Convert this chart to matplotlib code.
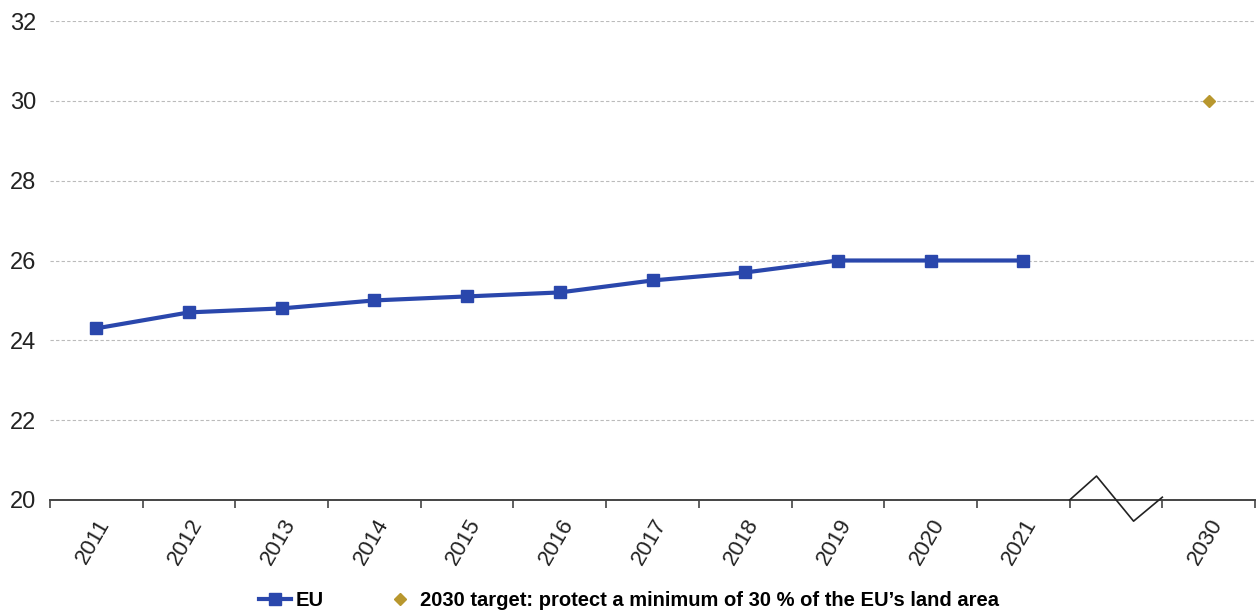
import matplotlib
matplotlib.use("Agg")
import matplotlib.pyplot as plt
from matplotlib.lines import Line2D

plt.rcParams['font.family'] = ['Liberation Sans', 'DejaVu Sans']

# Category slots: 2011-2021, an empty gap slot for the axis break, then 2030
categories = ['2011', '2012', '2013', '2014', '2015', '2016', '2017',
              '2018', '2019', '2020', '2021', '', '2030']
eu_years = ['2011', '2012', '2013', '2014', '2015', '2016', '2017',
            '2018', '2019', '2020', '2021']
eu_values = [24.3, 24.7, 24.8, 25.0, 25.1, 25.2, 25.5, 25.7, 26.0, 26.0, 26.0]
target_year = '2030'
target_value = 30.0
y_ticks = [20, 22, 24, 26, 28, 30, 32]

blue = '#2a47ac'
gold = '#b8972e'
text_col = '#222222'

fig = plt.figure(figsize=(12.58, 6.16), dpi=100)
ax = fig.add_axes([50 / 1258, 1 - 500 / 616, 1205 / 1258, 479 / 616])

pos = {c: i for i, c in enumerate(categories)}
ax.plot([pos[y] for y in eu_years], eu_values, color=blue, lw=3,
        marker='s', ms=9, mfc=blue, mec=blue, zorder=3)
ax.plot([pos[target_year]], [target_value], ls='none', marker='D', ms=6,
        color=gold, zorder=3)

ax.set_xlim(-0.5, len(categories) - 0.5)
ax.set_ylim(20, 32)
ax.set_yticks(y_ticks)
ax.set_yticklabels([str(v) for v in y_ticks], fontsize=17, color=text_col)
ax.yaxis.grid(True, ls=(0, (3, 2)), color='#bbbbbb', lw=0.8)
ax.set_axisbelow(True)
ax.tick_params(axis='y', length=0, pad=10)

# Labels centred on slots, tick marks on slot boundaries
ax.set_xticks(range(len(categories)))
ax.set_xticklabels(categories, rotation=60, ha='right', rotation_mode='anchor',
                   fontsize=16, color=text_col)
ax.tick_params(axis='x', which='major', length=0, pad=11)
ax.set_xticks([i - 0.5 for i in range(len(categories) + 1)], minor=True)
ax.tick_params(axis='x', which='minor', length=6, width=1.2, color='#444444',
               direction='out')

for s in ['left', 'right', 'top']:
    ax.spines[s].set_visible(False)
ax.spines['bottom'].set_color('#444444')
ax.spines['bottom'].set_linewidth(1.4)

# Zigzag axis-break mark across the gap slot
ax.plot([10.5, 10.79, 11.19, 11.5], [20.0, 20.6, 19.47, 20.07], color='#222222',
        lw=1.2, clip_on=False, zorder=4)

handles = [
    Line2D([], [], color=blue, lw=3, marker='s', ms=8),
    Line2D([], [], ls='none', marker='D', ms=6, color=gold),
]
labels = ['EU', '2030 target: protect a minimum of 30 % of the EU\u2019s land area']
fig.legend(handles, labels, loc='center', bbox_to_anchor=(0.5, 1 - 601 / 616),
           ncol=2, frameon=False, handlelength=1.6, handletextpad=0.2,
           columnspacing=3.0, prop={'weight': 'bold', 'size': 14.5})

fig.savefig('out.png', dpi=100)
